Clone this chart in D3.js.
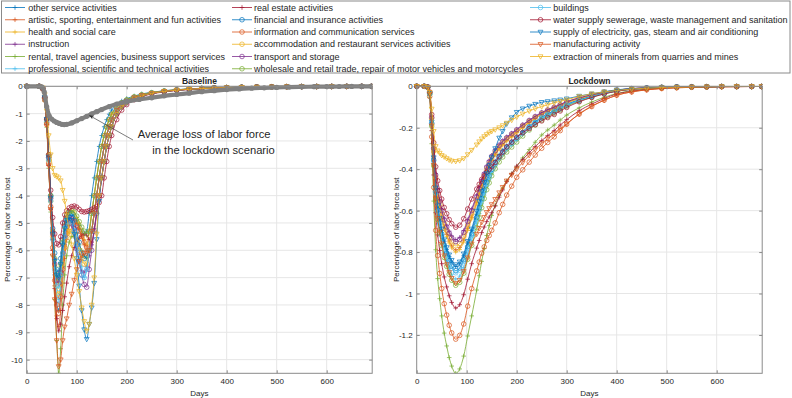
<!DOCTYPE html>
<html>
<head>
<meta charset="utf-8">
<script src="https://cdn.jsdelivr.net/npm/d3@7"></script>
<style>
    body { margin: 0; background: #fff; }
    text { font-family: "Liberation Sans", Arial, Helvetica, sans-serif; fill: #262626; }
</style>
</head>
<body>
<svg id="chart" width="792" height="398"></svg>
<script>
/**
 * Data.
 */
const sectors = [
    'other service activities',
    'artistic, sporting, entertainment and fun activities',
    'health and social care',
    'instruction',
    'rental, travel agencies, business support services',
    'professional, scientific and technical activities',
    'real estate activities',
    'financial and insurance activities',
    'information and communication services',
    'accommodation and restaurant services activities',
    'transport and storage',
    'wholesale and retail trade, repair of motor vehicles and motorcycles',
    'buildings',
    'water supply sewerage, waste management and sanitation',
    'supply of electricity, gas, steam and air conditioning',
    'manufacturing activity',
    'extraction of minerals from quarries and mines'
];

const markerTypes = ['+', '+', '+', '+', '+', '+', '+', 'o', 'o', 'o', 'o', 'o', 'o', 'o', 'v', 'v', 'v'];

const dayTicks = [0, 100, 200, 300, 400, 500, 600];
const baselineTicks = [-10, -9, -8, -7, -6, -5, -4, -3, -2, -1, 0];
const lockdownTicks = [-1.2, -1, -0.8, -0.6, -0.4, -0.2, 0];

// Baseline scenario (percentage of labor force lost)
const baselineDays = [0, 25, 32, 36, 40, 44, 48, 52, 56, 60, 64, 68, 72, 76, 80, 85, 90, 95, 100, 105, 110, 115,
    120, 125, 130, 135, 140, 145, 150, 155, 160, 165, 170, 180, 190, 200, 215, 230, 250, 275, 300,
    325, 350, 375, 400, 430, 460, 490, 520, 550, 580, 610, 640, 670, 690];

const baseline = [
    [0, 0, -0.1, -0.45, -1.3, -2.7, -4.2, -5.6, -6.9, -7.9, -8.2, -7.6, -6.6, -5.8, -5.2, -4.8, -4.7, -4.75, -4.9, -5.1, -5.3, -5.4,
        -5.3, -4.65, -4.0, -3.35, -2.75, -2.2, -1.8, -1.48, -1.22, -1.02, -0.87, -0.67, -0.54, -0.45, -0.355, -0.28, -0.22, -0.16, -0.12,
        -0.095, -0.07, -0.053, -0.042, -0.03, -0.022, -0.016, -0.012, -0.008, -0.006, -0.004, -0.003, -0.001, 0],
    [0, 0, -0.1, -0.5, -1.4, -2.9, -4.5, -6.0, -7.3, -8.4, -8.8, -8.2, -7.2, -6.3, -5.6, -5.1, -4.9, -4.9, -5.0, -5.2, -5.5, -5.8,
        -6.0, -5.3, -4.65, -4.0, -3.35, -2.75, -2.2, -1.8, -1.48, -1.22, -1.02, -0.76, -0.6, -0.49, -0.38, -0.305, -0.23, -0.17, -0.128,
        -0.1, -0.074, -0.056, -0.044, -0.032, -0.024, -0.017, -0.013, -0.009, -0.006, -0.005, -0.003, -0.001, 0],
    [0, 0, -0.08, -0.4, -1.2, -2.6, -4.1, -5.4, -6.5, -7.1, -7.2, -6.6, -5.8, -5.2, -4.8, -4.6, -4.55, -4.6, -4.8, -5.0, -5.3, -5.6,
        -5.8, -5.3, -4.65, -4.0, -3.35, -2.75, -2.2, -1.8, -1.48, -1.22, -1.02, -0.76, -0.6, -0.49, -0.38, -0.305, -0.23, -0.17, -0.128,
        -0.1, -0.074, -0.056, -0.044, -0.032, -0.024, -0.017, -0.013, -0.009, -0.006, -0.005, -0.003, -0.001, 0],
    [0, 0, -0.08, -0.4, -1.2, -2.5, -4.0, -5.3, -6.3, -6.9, -7.0, -6.5, -5.8, -5.3, -5.0, -4.95, -5.1, -5.5, -6.0, -6.4, -6.75, -6.8,
        -6.6, -6.2, -5.8, -5.2, -4.6, -4.0, -3.35, -2.75, -2.2, -1.8, -1.48, -1.02, -0.76, -0.6, -0.45, -0.355, -0.265, -0.19, -0.142,
        -0.11, -0.085, -0.064, -0.048, -0.035, -0.026, -0.019, -0.014, -0.01, -0.007, -0.005, -0.003, -0.002, -0.001],
    [0, 0, -0.1, -0.55, -1.5, -3.0, -4.6, -6.2, -7.8, -9.3, -10.5, -9.6, -8.0, -6.9, -6.2, -5.7, -5.5, -5.5, -5.6, -5.8, -6.0, -6.2,
        -6.3, -6.0, -5.3, -4.65, -4.0, -3.35, -2.75, -2.2, -1.8, -1.48, -1.22, -0.87, -0.67, -0.54, -0.41, -0.33, -0.25, -0.18, -0.135,
        -0.105, -0.08, -0.06, -0.046, -0.033, -0.025, -0.018, -0.013, -0.009, -0.007, -0.005, -0.003, -0.002, 0],
    [0, 0, -0.08, -0.45, -1.3, -2.7, -4.2, -5.6, -6.8, -7.6, -7.8, -7.2, -6.2, -5.4, -4.9, -4.7, -4.7, -4.9, -5.4, -6.0, -6.6, -7.0,
        -6.7, -6.0, -5.3, -4.65, -4.0, -3.35, -2.75, -2.2, -1.8, -1.48, -1.22, -0.87, -0.67, -0.54, -0.41, -0.33, -0.25, -0.18, -0.135,
        -0.105, -0.08, -0.06, -0.046, -0.033, -0.025, -0.018, -0.013, -0.009, -0.007, -0.005, -0.003, -0.002, 0],
    [0, 0, -0.1, -0.5, -1.4, -2.9, -4.5, -6.0, -7.4, -8.5, -8.95, -8.7, -8.2, -7.7, -7.2, -6.6, -6.2, -5.9, -5.7, -5.55, -5.45, -5.4,
        -5.45, -5.6, -5.7, -5.3, -4.65, -4.0, -3.35, -2.75, -2.2, -1.8, -1.48, -1.02, -0.76, -0.6, -0.45, -0.355, -0.265, -0.19, -0.142,
        -0.11, -0.085, -0.064, -0.048, -0.035, -0.026, -0.019, -0.014, -0.01, -0.007, -0.005, -0.003, -0.002, -0.001],
    [0, 0, -0.08, -0.4, -1.2, -2.6, -4.0, -5.2, -6.1, -6.7, -6.8, -6.3, -5.6, -5.0, -4.7, -4.6, -4.65, -4.9, -5.3, -5.7, -6.1, -6.3,
        -6.2, -6.0, -5.3, -4.65, -4.0, -3.35, -2.75, -2.2, -1.8, -1.48, -1.22, -0.87, -0.67, -0.54, -0.41, -0.33, -0.25, -0.18, -0.135,
        -0.105, -0.08, -0.06, -0.046, -0.033, -0.025, -0.018, -0.013, -0.009, -0.007, -0.005, -0.003, -0.002, 0],
    [0, 0, -0.1, -0.5, -1.4, -2.8, -4.4, -5.9, -7.1, -8.0, -8.3, -7.7, -6.7, -5.9, -5.4, -5.0, -4.9, -4.95, -5.1, -5.3, -5.5, -5.7,
        -5.9, -6.0, -5.3, -4.65, -4.0, -3.35, -2.75, -2.2, -1.8, -1.48, -1.22, -0.87, -0.67, -0.54, -0.41, -0.33, -0.25, -0.18, -0.135,
        -0.105, -0.08, -0.06, -0.046, -0.033, -0.025, -0.018, -0.013, -0.009, -0.007, -0.005, -0.003, -0.002, 0],
    [0, 0, -0.08, -0.45, -1.3, -2.7, -4.2, -5.5, -6.6, -7.3, -7.6, -7.2, -6.5, -5.9, -5.5, -5.3, -5.3, -5.4, -5.7, -6.0, -6.3, -6.5,
        -6.5, -6.0, -5.3, -4.65, -4.0, -3.35, -2.75, -2.2, -1.8, -1.48, -1.22, -0.87, -0.67, -0.54, -0.41, -0.33, -0.25, -0.18, -0.135,
        -0.105, -0.08, -0.06, -0.046, -0.033, -0.025, -0.018, -0.013, -0.009, -0.007, -0.005, -0.003, -0.002, 0],
    [0, 0, -0.08, -0.4, -1.2, -2.6, -4.1, -5.4, -6.5, -7.1, -7.2, -6.8, -6.1, -5.5, -5.0, -4.8, -4.85, -5.2, -5.8, -6.4, -6.9, -7.25,
        -7.35, -6.7, -6.0, -5.3, -4.65, -4.0, -3.35, -2.75, -2.2, -1.8, -1.48, -1.02, -0.76, -0.6, -0.45, -0.355, -0.265, -0.19, -0.142,
        -0.11, -0.085, -0.064, -0.048, -0.035, -0.026, -0.019, -0.014, -0.01, -0.007, -0.005, -0.003, -0.002, -0.001],
    [0, 0, -0.08, -0.4, -1.2, -2.5, -4.0, -5.3, -6.3, -6.9, -7.0, -6.5, -5.7, -5.1, -4.8, -4.6, -4.55, -4.6, -4.75, -4.95, -5.15, -5.3,
        -5.4, -5.3, -4.65, -4.0, -3.35, -2.75, -2.2, -1.8, -1.48, -1.22, -1.02, -0.76, -0.6, -0.49, -0.38, -0.305, -0.23, -0.17, -0.128,
        -0.1, -0.074, -0.056, -0.044, -0.032, -0.024, -0.017, -0.013, -0.009, -0.006, -0.005, -0.003, -0.001, 0],
    [0, 0, -0.08, -0.45, -1.3, -2.7, -4.2, -5.6, -6.7, -7.3, -7.4, -6.9, -6.1, -5.5, -5.1, -4.95, -5.0, -5.3, -5.8, -6.4, -6.9, -7.0,
        -6.7, -6.0, -5.3, -4.65, -4.0, -3.35, -2.75, -2.2, -1.8, -1.48, -1.22, -0.87, -0.67, -0.54, -0.41, -0.33, -0.25, -0.18, -0.135,
        -0.105, -0.08, -0.06, -0.046, -0.033, -0.025, -0.018, -0.013, -0.009, -0.007, -0.005, -0.003, -0.002, 0],
    [0, 0, -0.08, -0.4, -1.2, -2.5, -3.8, -4.8, -5.4, -5.75, -5.8, -5.5, -5.0, -4.7, -4.55, -4.45, -4.4, -4.38, -4.42, -4.5, -4.58, -4.6,
        -4.58, -4.55, -4.5, -4.45, -4.4, -4.25, -4.0, -3.35, -2.75, -2.2, -1.8, -1.22, -0.87, -0.67, -0.49, -0.38, -0.28, -0.205, -0.15,
        -0.115, -0.09, -0.068, -0.05, -0.038, -0.027, -0.02, -0.015, -0.01, -0.007, -0.006, -0.004, -0.002, -0.001],
    [0, 0, -0.08, -0.4, -1.2, -2.6, -4.1, -5.4, -6.4, -6.9, -7.0, -6.5, -5.8, -5.2, -4.9, -4.8, -4.9, -5.4, -6.3, -7.3, -8.2, -8.9,
        -9.25, -8.7, -8.1, -7.2, -5.6, -4.2, -3.35, -2.75, -2.2, -1.8, -1.48, -1.02, -0.76, -0.6, -0.45, -0.355, -0.265, -0.19, -0.142,
        -0.11, -0.085, -0.064, -0.048, -0.035, -0.026, -0.019, -0.014, -0.01, -0.007, -0.005, -0.003, -0.002, -0.001],
    [0, 0, -0.1, -0.5, -1.4, -2.9, -4.5, -6.2, -7.8, -9.3, -10.25, -10.0, -9.3, -8.8, -8.5, -8.0, -7.6, -7.1, -6.7, -6.4, -6.2, -6.1,
        -6.1, -6.0, -5.3, -4.65, -4.0, -3.35, -2.75, -2.2, -1.8, -1.48, -1.22, -0.87, -0.67, -0.54, -0.41, -0.33, -0.25, -0.18, -0.135,
        -0.105, -0.08, -0.06, -0.046, -0.033, -0.025, -0.018, -0.013, -0.009, -0.007, -0.005, -0.003, -0.002, 0],
    [0, 0, -0.05, -0.3, -0.9, -1.8, -2.5, -3.0, -3.25, -3.3, -3.35, -3.45, -3.8, -4.2, -4.7, -5.3, -5.8, -6.3, -6.9, -7.5, -8.1, -8.6,
        -8.95, -8.7, -8.0, -7.0, -5.4, -4.0, -3.35, -2.75, -2.2, -1.8, -1.48, -1.02, -0.76, -0.6, -0.45, -0.355, -0.265, -0.19, -0.142,
        -0.11, -0.085, -0.064, -0.048, -0.035, -0.026, -0.019, -0.014, -0.01, -0.007, -0.005, -0.003, -0.002, -0.001]
];

// Average loss of labor force in the lockdown scenario (grey curve on the baseline panel)
const averageDays = [0, 25, 30, 35, 40, 45, 50, 55, 60, 65, 70, 75, 80, 90, 100, 110, 120, 130, 140, 150, 165, 180,
    200, 225, 250, 275, 300, 325, 350, 375, 400, 425, 450, 475, 500, 525, 550, 575, 600, 625, 650, 670, 690];
const averageLoss = [0, 0, -0.02, -0.2, -0.75, -1.08, -1.2, -1.27, -1.32, -1.36, -1.39, -1.4, -1.39, -1.34, -1.26, -1.18, -1.1, -1.01, -0.93, -0.85, -0.74, -0.65,
    -0.56, -0.48, -0.42, -0.35, -0.3, -0.25, -0.2, -0.16, -0.12, -0.095, -0.07, -0.055, -0.04, -0.03, -0.02, -0.015, -0.01, -0.007, -0.004, -0.002, 0];

// Lockdown scenario
const lockdownDays = [0, 15, 22, 26, 30, 34, 38, 42, 46, 50, 55, 60, 65, 70, 78, 86, 94, 102, 110,
    120, 125, 130, 135, 140, 145, 150, 157, 165, 172, 180, 190, 200, 212, 225, 237, 250, 262, 275, 287, 300,
    325, 350, 375, 400, 430, 460, 490, 520, 550, 580, 610, 640, 670, 690];

const lockdown = [
    [0, 0, -0.004, -0.035, -0.174, -0.348, -0.496, -0.583, -0.644, -0.696, -0.748, -0.787, -0.822, -0.848, -0.87, -0.857, -0.818, -0.757, -0.696,
        -0.618, -0.574, -0.531, -0.492, -0.452, -0.422, -0.392, -0.361, -0.331, -0.309, -0.287, -0.265, -0.244, -0.218, -0.191, -0.17, -0.148, -0.132, -0.117, -0.103, -0.087,
        -0.065, -0.048, -0.033, -0.022, -0.013, -0.009, -0.005, -0.003, -0.003, -0.002, -0.001, -0.001, -0.001, -0.001],
    [0, 0, -0.004, -0.032, -0.158, -0.316, -0.45, -0.529, -0.585, -0.632, -0.679, -0.715, -0.747, -0.77, -0.79, -0.778, -0.743, -0.687, -0.632,
        -0.561, -0.521, -0.482, -0.446, -0.411, -0.383, -0.356, -0.328, -0.3, -0.28, -0.261, -0.241, -0.221, -0.198, -0.174, -0.154, -0.134, -0.12, -0.107, -0.093, -0.079,
        -0.059, -0.043, -0.03, -0.02, -0.012, -0.008, -0.005, -0.003, -0.002, -0.002, -0.001, -0.001, -0.001, -0.001],
    [0, 0, -0.004, -0.032, -0.16, -0.32, -0.456, -0.536, -0.592, -0.64, -0.688, -0.724, -0.756, -0.78, -0.8, -0.788, -0.752, -0.696, -0.64,
        -0.568, -0.528, -0.488, -0.452, -0.416, -0.388, -0.36, -0.332, -0.304, -0.284, -0.264, -0.244, -0.224, -0.2, -0.176, -0.156, -0.136, -0.122, -0.108, -0.094, -0.08,
        -0.06, -0.044, -0.03, -0.02, -0.012, -0.008, -0.005, -0.003, -0.002, -0.002, -0.001, -0.001, -0.001, -0.001],
    [0, 0, -0.004, -0.03, -0.148, -0.296, -0.422, -0.496, -0.548, -0.592, -0.636, -0.67, -0.699, -0.722, -0.74, -0.729, -0.696, -0.644, -0.592,
        -0.525, -0.488, -0.451, -0.418, -0.385, -0.359, -0.333, -0.307, -0.281, -0.263, -0.244, -0.226, -0.207, -0.185, -0.163, -0.144, -0.126, -0.112, -0.1, -0.087, -0.074,
        -0.056, -0.041, -0.028, -0.019, -0.011, -0.007, -0.004, -0.003, -0.002, -0.001, -0.001, -0.001, -0.001, -0.001],
    [0, 0, -0.007, -0.055, -0.277, -0.554, -0.789, -0.928, -1.025, -1.108, -1.191, -1.253, -1.309, -1.35, -1.385, -1.364, -1.302, -1.205, -1.108,
        -0.983, -0.914, -0.845, -0.783, -0.72, -0.672, -0.623, -0.575, -0.526, -0.492, -0.457, -0.422, -0.388, -0.346, -0.305, -0.27, -0.235, -0.211, -0.187, -0.163, -0.139,
        -0.104, -0.076, -0.053, -0.035, -0.021, -0.014, -0.008, -0.006, -0.004, -0.003, -0.002, -0.001, -0.001, -0.001],
    [0, 0, -0.005, -0.037, -0.186, -0.372, -0.53, -0.623, -0.688, -0.744, -0.8, -0.842, -0.879, -0.907, -0.93, -0.916, -0.874, -0.809, -0.744,
        -0.66, -0.614, -0.567, -0.525, -0.484, -0.451, -0.419, -0.386, -0.353, -0.33, -0.307, -0.284, -0.26, -0.233, -0.205, -0.181, -0.158, -0.141, -0.126, -0.11, -0.093,
        -0.07, -0.051, -0.035, -0.023, -0.014, -0.009, -0.006, -0.004, -0.003, -0.002, -0.001, -0.001, -0.001, -0.001],
    [0, 0, -0.005, -0.043, -0.214, -0.428, -0.61, -0.717, -0.792, -0.856, -0.92, -0.968, -1.011, -1.043, -1.07, -1.054, -1.006, -0.931, -0.856,
        -0.781, -0.744, -0.706, -0.679, -0.653, -0.631, -0.61, -0.578, -0.535, -0.5, -0.46, -0.423, -0.385, -0.353, -0.321, -0.291, -0.262, -0.238, -0.214, -0.187, -0.161,
        -0.118, -0.086, -0.059, -0.037, -0.024, -0.015, -0.01, -0.006, -0.004, -0.003, -0.002, -0.002, -0.001, -0.001],
    [0, 0, -0.004, -0.036, -0.178, -0.356, -0.507, -0.596, -0.659, -0.712, -0.765, -0.805, -0.841, -0.868, -0.89, -0.877, -0.837, -0.774, -0.712,
        -0.632, -0.587, -0.543, -0.503, -0.463, -0.432, -0.401, -0.369, -0.338, -0.316, -0.294, -0.271, -0.249, -0.223, -0.196, -0.174, -0.151, -0.135, -0.12, -0.105, -0.089,
        -0.067, -0.049, -0.034, -0.022, -0.013, -0.009, -0.005, -0.004, -0.003, -0.002, -0.001, -0.001, -0.001, -0.001],
    [0, 0, -0.006, -0.049, -0.244, -0.488, -0.695, -0.817, -0.903, -0.976, -1.049, -1.104, -1.153, -1.19, -1.22, -1.202, -1.147, -1.061, -0.976,
        -0.891, -0.848, -0.805, -0.775, -0.744, -0.72, -0.695, -0.659, -0.61, -0.57, -0.525, -0.482, -0.439, -0.403, -0.366, -0.332, -0.299, -0.271, -0.244, -0.214, -0.183,
        -0.134, -0.098, -0.067, -0.043, -0.027, -0.017, -0.011, -0.007, -0.005, -0.004, -0.002, -0.002, -0.001, -0.001],
    [0, 0, -0.004, -0.031, -0.154, -0.308, -0.439, -0.516, -0.57, -0.616, -0.662, -0.697, -0.728, -0.751, -0.77, -0.758, -0.724, -0.67, -0.616,
        -0.547, -0.508, -0.47, -0.435, -0.4, -0.373, -0.347, -0.32, -0.293, -0.273, -0.254, -0.235, -0.216, -0.193, -0.169, -0.15, -0.131, -0.117, -0.104, -0.091, -0.077,
        -0.058, -0.042, -0.029, -0.019, -0.012, -0.008, -0.005, -0.003, -0.002, -0.002, -0.001, -0.001, -0.001, -0.001],
    [0, 0, -0.004, -0.03, -0.15, -0.3, -0.428, -0.503, -0.555, -0.6, -0.645, -0.679, -0.709, -0.731, -0.75, -0.739, -0.705, -0.653, -0.6,
        -0.533, -0.495, -0.458, -0.424, -0.39, -0.364, -0.338, -0.311, -0.285, -0.266, -0.248, -0.229, -0.21, -0.188, -0.165, -0.146, -0.128, -0.114, -0.101, -0.089, -0.075,
        -0.056, -0.041, -0.029, -0.019, -0.011, -0.008, -0.005, -0.003, -0.002, -0.002, -0.001, -0.001, -0.001, -0.001],
    [0, 0, -0.005, -0.038, -0.192, -0.384, -0.547, -0.643, -0.71, -0.768, -0.826, -0.869, -0.907, -0.936, -0.96, -0.946, -0.902, -0.835, -0.768,
        -0.682, -0.634, -0.586, -0.542, -0.499, -0.466, -0.432, -0.398, -0.365, -0.341, -0.317, -0.293, -0.269, -0.24, -0.211, -0.187, -0.163, -0.146, -0.13, -0.113, -0.096,
        -0.072, -0.053, -0.036, -0.024, -0.014, -0.01, -0.006, -0.004, -0.003, -0.002, -0.001, -0.001, -0.001, -0.001],
    [0, 0, -0.005, -0.036, -0.18, -0.36, -0.513, -0.603, -0.666, -0.72, -0.774, -0.815, -0.851, -0.878, -0.9, -0.887, -0.846, -0.783, -0.72,
        -0.639, -0.594, -0.549, -0.509, -0.468, -0.437, -0.405, -0.374, -0.342, -0.32, -0.297, -0.275, -0.252, -0.225, -0.198, -0.176, -0.153, -0.137, -0.122, -0.106, -0.09,
        -0.068, -0.05, -0.034, -0.023, -0.014, -0.009, -0.005, -0.004, -0.003, -0.002, -0.001, -0.001, -0.001, -0.001],
    [0, 0, -0.003, -0.027, -0.136, -0.272, -0.388, -0.456, -0.503, -0.544, -0.585, -0.615, -0.643, -0.663, -0.68, -0.67, -0.639, -0.592, -0.544,
        -0.496, -0.473, -0.449, -0.432, -0.415, -0.401, -0.388, -0.367, -0.34, -0.318, -0.292, -0.269, -0.245, -0.224, -0.204, -0.185, -0.167, -0.151, -0.136, -0.119, -0.102,
        -0.075, -0.054, -0.037, -0.024, -0.015, -0.01, -0.006, -0.004, -0.003, -0.002, -0.001, -0.001, -0.001, -0.001],
    [0, 0, -0.004, -0.034, -0.172, -0.344, -0.49, -0.576, -0.636, -0.688, -0.74, -0.778, -0.813, -0.839, -0.86, -0.847, -0.808, -0.748, -0.688,
        -0.602, -0.555, -0.507, -0.464, -0.421, -0.382, -0.344, -0.3, -0.249, -0.217, -0.181, -0.151, -0.125, -0.108, -0.095, -0.086, -0.077, -0.073, -0.069, -0.065, -0.06,
        -0.047, -0.036, -0.026, -0.017, -0.011, -0.008, -0.005, -0.003, -0.003, -0.002, -0.001, -0.001, -0.001, -0.001],
    [0, 0, -0.005, -0.038, -0.19, -0.38, -0.542, -0.637, -0.703, -0.76, -0.817, -0.86, -0.898, -0.926, -0.95, -0.936, -0.893, -0.827, -0.76,
        -0.713, -0.685, -0.656, -0.632, -0.608, -0.589, -0.57, -0.545, -0.513, -0.487, -0.456, -0.428, -0.399, -0.368, -0.333, -0.305, -0.276, -0.253, -0.228, -0.205, -0.181,
        -0.133, -0.095, -0.067, -0.043, -0.027, -0.017, -0.01, -0.007, -0.005, -0.003, -0.002, -0.001, -0.001, -0.001],
    [0, 0, -0.004, -0.029, -0.109, -0.217, -0.29, -0.311, -0.322, -0.333, -0.34, -0.348, -0.355, -0.36, -0.362, -0.358, -0.348, -0.329, -0.308,
        -0.282, -0.267, -0.253, -0.242, -0.232, -0.224, -0.217, -0.209, -0.199, -0.189, -0.177, -0.163, -0.148, -0.133, -0.119, -0.108, -0.098, -0.089, -0.08, -0.072, -0.065,
        -0.049, -0.036, -0.027, -0.02, -0.013, -0.009, -0.006, -0.004, -0.003, -0.002, -0.001, -0.001, -0.001, -0.001]
];

/**
 * Visual configs.
 */
const matlabColors = ['#0072BD', '#D95319', '#EDB120', '#7E2F8E', '#77AC30', '#4DBEEE', '#A2142F'];
const colorOf = i => matlabColors[i % 7];
const plotTop = 86.3, plotBottom = 373.3, plotWidth = 345.5;
const maxDay = 691;
const axisColor = '#8a8a8a', gridColor = '#e6e6e6';

const svg = d3.select('#chart');

/**
 * Marker shapes, MATLAB style.
 */
function drawMarker(g, type, color, size) {
    const s = size || 2.3;
    if (type === '+') {
        g.append('path').attr('d', `M${-s},0H${s}M0,${-s}V${s}`)
            .attr('stroke', color).attr('stroke-width', 0.7).attr('fill', 'none');
    } else if (type === 'o') {
        g.append('circle').attr('r', s)
            .attr('stroke', color).attr('stroke-width', 0.7).attr('fill', 'none');
    } else {
        g.append('path').attr('d', `M${-s * 1.05},${-s * 0.75}L${s * 1.05},${-s * 0.75}L0,${s * 1.15}Z`)
            .attr('stroke', color).attr('stroke-width', 0.7).attr('fill', 'none');
    }
}

/**
 * Draws one axes panel.
 */
function drawPanel(cfg) {
    const x = d3.scaleLinear().domain([0, maxDay]).range([cfg.left, cfg.left + plotWidth]);
    const y = d3.scaleLinear().domain(cfg.yDomain).range([plotBottom, plotTop]);
    const g = svg.append('g').attr('class', 'panel');

    // Grid
    g.append('g').selectAll('line').data(dayTicks.filter(d => d > 0)).join('line')
        .attr('x1', d => x(d)).attr('x2', d => x(d)).attr('y1', plotTop).attr('y2', plotBottom)
        .attr('stroke', gridColor).attr('stroke-width', 1);
    g.append('g').selectAll('line').data(cfg.yTicks).join('line')
        .attr('x1', cfg.left).attr('x2', cfg.left + plotWidth).attr('y1', d => y(d)).attr('y2', d => y(d))
        .attr('stroke', gridColor).attr('stroke-width', 1);

    // Series
    const line = d3.line().x(d => x(d[0])).y(d => y(d[1])).curve(d3.curveMonotoneX);
    const clipId = 'clip-' + cfg.title;
    svg.append('clipPath').attr('id', clipId).append('rect')
        .attr('x', cfg.left - 4).attr('y', plotTop - 4).attr('width', plotWidth + 4).attr('height', plotBottom - plotTop + 4);
    const seriesG = g.append('g').attr('clip-path', `url(#${clipId})`);

    cfg.series.forEach((values, i) => {
        const pts = cfg.days.map((d, k) => [d, values[k]]);
        const sg = seriesG.append('g').attr('class', 'series');
        sg.append('path').attr('d', line(pts))
            .attr('fill', 'none').attr('stroke', colorOf(i)).attr('stroke-width', 0.8);
        pts.forEach(p => {
            const m = sg.append('g').attr('transform', `translate(${x(p[0])},${y(p[1])})`);
            drawMarker(m, markerTypes[i], colorOf(i));
        });
    });

    if (cfg.average) {
        const pts = averageDays.map((d, k) => [d, averageLoss[k]]);
        const ag = seriesG.append('g').attr('class', 'average');
        ag.append('path').attr('d', line(pts))
            .attr('fill', 'none').attr('stroke', '#808080').attr('stroke-width', 4.2).attr('stroke-linecap', 'round');
        ag.selectAll('circle').data(pts).join('circle')
            .attr('cx', p => x(p[0])).attr('cy', p => y(p[1])).attr('r', 2.6).attr('fill', '#808080');
    }

    // Axes with inward ticks on all four sides
    const xAxis = d3.axisBottom(x).tickValues(dayTicks).tickSizeInner(-3).tickSizeOuter(0).tickPadding(5.5);
    const yAxis = d3.axisLeft(y).tickValues(cfg.yTicks).tickSizeInner(-3).tickSizeOuter(0).tickPadding(4)
        .tickFormat(d => String(d));
    const gx = g.append('g').attr('transform', `translate(0,${plotBottom})`).call(xAxis);
    const gy = g.append('g').attr('transform', `translate(${cfg.left},0)`).call(yAxis);
    const gxt = g.append('g').attr('transform', `translate(0,${plotTop})`)
        .call(d3.axisTop(x).tickValues(dayTicks).tickSizeInner(-3).tickSizeOuter(0).tickFormat(''));
    const gyr = g.append('g').attr('transform', `translate(${cfg.left + plotWidth},0)`)
        .call(d3.axisRight(y).tickValues(cfg.yTicks).tickSizeInner(-3).tickSizeOuter(0).tickFormat(''));
    [gx, gy, gxt, gyr].forEach(a => {
        a.select('.domain').remove();
        a.selectAll('line').attr('stroke', axisColor);
        a.selectAll('text').attr('font-size', 8).attr('fill', '#262626')
            .attr('font-family', '"Liberation Sans", Arial, sans-serif');
    });

    // Box
    g.append('rect').attr('x', cfg.left).attr('y', plotTop).attr('width', plotWidth).attr('height', plotBottom - plotTop)
        .attr('fill', 'none').attr('stroke', axisColor).attr('stroke-width', 1);

    // Labels
    const cx = cfg.left + plotWidth / 2;
    g.append('text').attr('x', cx).attr('y', 83.5).attr('text-anchor', 'middle')
        .attr('font-size', 8.5).attr('font-weight', 'bold').text(cfg.title);
    g.append('text').attr('x', cx).attr('y', 395.5).attr('text-anchor', 'middle')
        .attr('font-size', 8).text('Days');
    g.append('text').attr('transform', `translate(${cfg.labelX},${(plotTop + plotBottom) / 2}) rotate(-90)`)
        .attr('text-anchor', 'middle').attr('font-size', 8).text('Percentage of labor force lost');
}

drawPanel({ title: 'Baseline', left: 26.7, labelX: 10, yDomain: [-10.5, 0], yTicks: baselineTicks,
    days: baselineDays, series: baseline, average: true });
drawPanel({ title: 'Lockdown', left: 416.7, labelX: 398.5, yDomain: [-1.385, 0], yTicks: lockdownTicks,
    days: lockdownDays, series: lockdown, average: false });

/**
 * Annotation.
 */
const note = svg.append('g').attr('class', 'note');
svg.append('defs').append('marker').attr('id', 'arrow').attr('viewBox', '0 0 10 10')
    .attr('refX', 9).attr('refY', 5).attr('markerWidth', 7).attr('markerHeight', 7).attr('orient', 'auto')
    .append('path').attr('d', 'M0,1L10,5L0,9L3,5Z').attr('fill', '#333');
note.append('line').attr('x1', 133).attr('y1', 140).attr('x2', 89.5).attr('y2', 115.5)
    .attr('stroke', '#444').attr('stroke-width', 0.7).attr('marker-end', 'url(#arrow)');
note.append('text').attr('x', 137.7).attr('y', 138).attr('font-size', 11.2).text('Average loss of labor force');
note.append('text').attr('x', 152.3).attr('y', 154).attr('font-size', 11.2).text('in the lockdown scenario');

/**
 * Legend.
 */
const legend = svg.append('g').attr('class', 'legend');
legend.append('rect').attr('x', 1.5).attr('y', 1).attr('width', 788.5).attr('height', 72)
    .attr('fill', '#fff').attr('stroke', axisColor).attr('stroke-width', 1);
const legendCols = [
    { x0: 5, x1: 25, tx: 28.3 },
    { x0: 232, x1: 252, tx: 254 },
    { x0: 530, x1: 551, tx: 553.3 }
];
sectors.forEach((name, i) => {
    const col = i < 6 ? 0 : i < 12 ? 1 : 2;
    const row = i < 6 ? i : i < 12 ? i - 6 : i - 12;
    const c = legendCols[col];
    const yy = 7.5 + row * 12.25;
    const item = legend.append('g');
    item.append('line').attr('x1', c.x0).attr('x2', c.x1).attr('y1', yy).attr('y2', yy)
        .attr('stroke', colorOf(i)).attr('stroke-width', 0.8);
    const m = item.append('g').attr('transform', `translate(${(c.x0 + c.x1) / 2},${yy})`);
    drawMarker(m, markerTypes[i], colorOf(i));
    item.append('text').attr('x', c.tx).attr('y', yy + 3.2).attr('font-size', 9).text(name);
});
</script>
</body>
</html>
